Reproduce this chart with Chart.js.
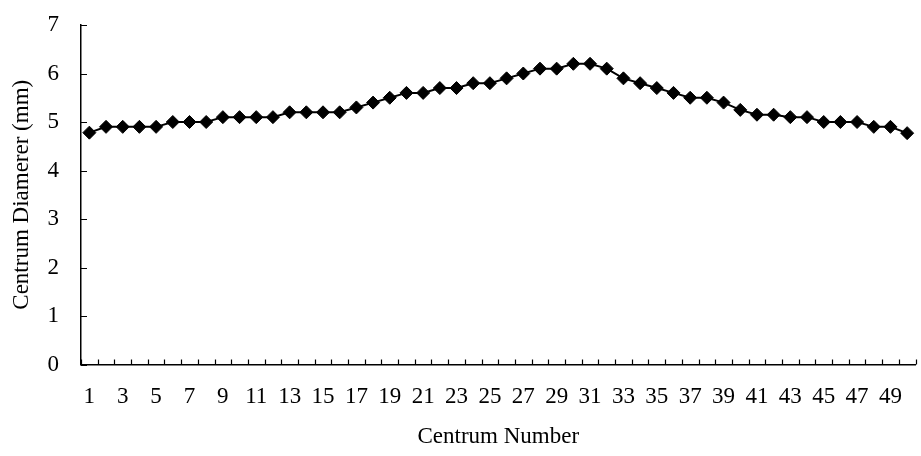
<!DOCTYPE html>
<html>
<head>
<meta charset="utf-8">
<script src="https://cdn.jsdelivr.net/npm/chart.js@4"></script>
<style>
  html, body { margin: 0; padding: 0; background: #fff; overflow: hidden; }
  #wrap { width: 923px; height: 456px; position: relative; }
</style>
</head>
<body>
<div id="wrap"><canvas id="chart"></canvas></div>
<script>
// Centrum numbers along the column
const centrumNumbers = Array.from({ length: 50 }, (_, i) => String(i + 1));

// Measured centrum diameter (mm) for each centrum
const centrumDiameters = [
  4.78, 4.9, 4.9, 4.9, 4.9, 5.0, 5.0, 5.0, 5.1, 5.1,
  5.1, 5.1, 5.2, 5.2, 5.2, 5.2, 5.3, 5.4, 5.5, 5.6,
  5.6, 5.7, 5.7, 5.8, 5.8, 5.9, 6.0, 6.1, 6.1, 6.2,
  6.2, 6.1, 5.9, 5.8, 5.7, 5.6, 5.5, 5.5, 5.4, 5.25,
  5.15, 5.15, 5.1, 5.1, 5.0, 5.0, 5.0, 4.9, 4.9, 4.77
];

// Value axis ticks
const yTicks = [0, 1, 2, 3, 4, 5, 6, 7];

const serif = "'Liberation Serif', 'Times New Roman', serif";

// Short tick marks that point into the plot area
const innerTicks = {
  id: 'innerTicks',
  beforeDatasetsDraw(chart) {
    const { ctx, chartArea, scales: { x, y } } = chart;
    ctx.save();
    ctx.strokeStyle = '#000';
    ctx.lineWidth = 1.2;
    ctx.beginPath();
    for (let i = 0; i <= centrumNumbers.length; i++) {
      const px = Math.round(x.getPixelForValue(i - 0.5)) + 0.5;
      ctx.moveTo(px, chartArea.bottom);
      ctx.lineTo(px, chartArea.bottom - 5);
    }
    yTicks.forEach(v => {
      const py = Math.round(y.getPixelForValue(v)) + 0.5;
      ctx.moveTo(chartArea.left, py);
      ctx.lineTo(chartArea.left + 6, py);
    });
    ctx.stroke();
    ctx.restore();
  }
};

new Chart(document.getElementById('chart'), {
  type: 'line',
  data: {
    labels: centrumNumbers,
    datasets: [{
      data: centrumDiameters,
      borderColor: '#000',
      borderWidth: 2,
      backgroundColor: '#000',
      pointStyle: 'rectRot',
      pointRadius: 6.5,
      pointBorderWidth: 1,
      pointBackgroundColor: '#000',
      pointBorderColor: '#000',
      tension: 0,
      fill: false,
      clip: false
    }]
  },
  options: {
    responsive: true,
    maintainAspectRatio: false,
    animation: false,
    layout: { padding: { top: 25, right: 0, left: 0, bottom: 0 } },
    plugins: {
      legend: { display: false },
      tooltip: { enabled: false }
    },
    scales: {
      x: {
        type: 'category',
        offset: true,
        grid: { display: false, drawTicks: false },
        border: { display: true, color: '#000', width: 1.5 },
        ticks: {
          autoSkip: false,
          maxRotation: 0,
          minRotation: 0,
          padding: 19,
          color: '#000',
          font: { family: serif, size: 23 },
          callback: (val, idx) => (idx % 2 === 0 ? centrumNumbers[idx] : '')
        },
        title: {
          display: true,
          text: 'Centrum Number',
          color: '#000',
          font: { family: serif, size: 23 },
          padding: { top: 0, bottom: 5 }
        },
        afterFit(scale) {
          scale.height = 91.5;
          scale.paddingLeft = 0;
          scale.paddingRight = 0;
        }
      },
      y: {
        min: 0,
        max: 7,
        grid: { display: false, drawTicks: false },
        border: { display: true, color: '#000', width: 1.5 },
        ticks: {
          stepSize: 1,
          padding: 22,
          color: '#000',
          font: { family: serif, size: 23 }
        },
        title: {
          display: true,
          text: 'Centrum Diamerer (mm)',
          color: '#000',
          font: { family: serif, size: 23 },
          padding: { top: 8, bottom: 0 }
        },
        afterFit(scale) {
          scale.width = 81;
          scale.paddingTop = 0;
          scale.paddingBottom = 0;
        }
      }
    }
  },
  plugins: [innerTicks]
});
</script>
</body>
</html>
